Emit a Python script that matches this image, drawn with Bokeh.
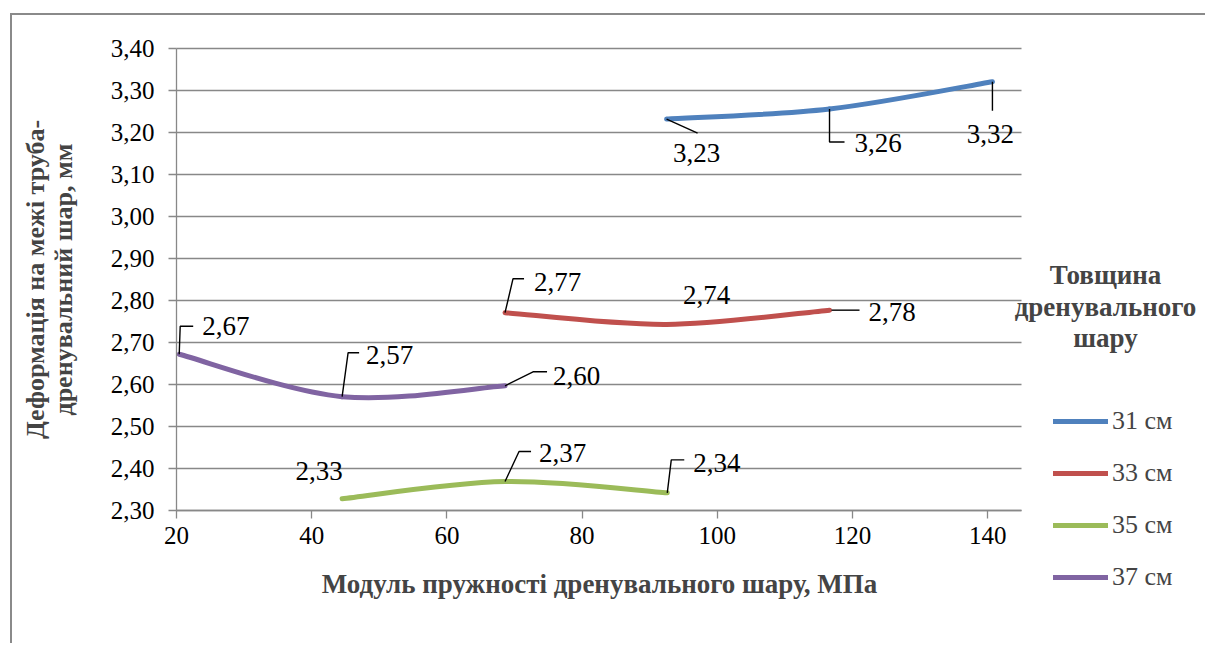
from bokeh.plotting import figure
from bokeh.models import (Range1d, FixedTicker, CustomJSTickFormatter, Label,
                          Legend, LegendItem)
from bokeh.core.properties import value
from bokeh.embed import file_html
from bokeh.resources import INLINE

# ---- data: drainage-layer elastic modulus (MPa) vs deformation at pipe boundary (mm)
series_names = ["31 см", "33 см", "35 см", "37 см"]

modulus_31 = [92.5, 116.6, 140.7]
deform_31 = [3.232, 3.256, 3.321]

modulus_33 = [68.6, 92.5, 116.6]
deform_33 = [2.771, 2.743, 2.777]

modulus_35 = [44.5, 68.6, 92.6]
deform_35 = [2.328, 2.369, 2.342]

modulus_37 = [20.4, 44.5, 68.6]
deform_37 = [2.672, 2.571, 2.597]

x_ticks = [20, 40, 60, 80, 100, 120, 140]
y_ticks = [2.30, 2.40, 2.50, 2.60, 2.70, 2.80, 2.90, 3.00, 3.10, 3.20, 3.30, 3.40]

# ---- layout (pixels) and axis limits
X_MIN, X_MAX = 20, 145
Y_MIN, Y_MAX = 2.30, 3.40
W, H = 1195, 630                 # canvas
PL, PT, PW, PH = 164, 33, 845, 462   # plotting area inside the canvas
KX = PW / (X_MAX - X_MIN)
KY = PH / (Y_MAX - Y_MIN)
OX, OY = 12, 15                  # canvas origin on the page (margin + border)

FONT = "Liberation Serif"
GRID = "#888888"
colors = ["#4F81BD", "#C0504D", "#9BBB59", "#8064A2"]

# label placement per point: (align, dx, dy, leader path in pixel offsets)
placements = [
    [("center", 30, 34, [(0, 0), (31, 14)]),
     ("left", 25, 34, [(0, 0), (0, 33), (15, 33)]),
     ("center", -2, 52, [(0, 0), (0, 29)])],
    [("left", 29, -31, [(0, 0), (8, -34), (19, -34)]),
     ("center", 40, -29, None),
     ("left", 39, 2, [(2, 0), (30, 0)])],
    [("center", -23, -28, None),
     ("left", 34, -29, [(0, 0), (14, -30), (26, -30)]),
     ("left", 26, -30, [(0, 0), (4, -33), (17, -33)])],
    [("left", 23, -28, [(0, 0), (1, -28), (14, -28)]),
     ("left", 24, -42, [(0, 0), (6, -44), (17, -44)]),
     ("left", 48, -10, [(0, 0), (28, -14), (42, -14)])],
]

all_x = [modulus_31, modulus_33, modulus_35, modulus_37]
all_y = [deform_31, deform_33, deform_35, deform_37]


def fmt(v):
    return f"{v:.2f}".replace(".", ",")


def sx(page_x):
    return page_x - OX


def sy(page_y):
    return (OY + H) - page_y


def smooth_segments(xs, ys):
    """Cubic Bezier pieces (Catmull-Rom style) through the points."""
    n = len(xs)
    out = dict(x0=[], y0=[], x1=[], y1=[], cx0=[], cy0=[], cx1=[], cy1=[])
    for i in range(n - 1):
        xp, yp = (xs[i - 1], ys[i - 1]) if i > 0 else (xs[i], ys[i])
        xn, yn = (xs[i + 2], ys[i + 2]) if i + 2 < n else (xs[i + 1], ys[i + 1])
        out["x0"].append(xs[i]); out["y0"].append(ys[i])
        out["x1"].append(xs[i + 1]); out["y1"].append(ys[i + 1])
        out["cx0"].append(xs[i] + (xs[i + 1] - xp) / 6)
        out["cy0"].append(ys[i] + (ys[i + 1] - yp) / 6)
        out["cx1"].append(xs[i + 1] - (xn - xs[i]) / 6)
        out["cy1"].append(ys[i + 1] - (yn - ys[i]) / 6)
    return out


# the frame covers the whole canvas; axes sit at fixed positions inside it
x_lo = X_MIN - PL / KX
x_hi = X_MAX + (W - PL - PW) / KX
y_lo = Y_MIN - (H - PT - PH) / KY
y_hi = Y_MAX + PT / KY

p = figure(width=W, height=H, output_backend="svg", toolbar_location=None,
           x_range=Range1d(x_lo, x_hi), y_range=Range1d(y_lo, y_hi),
           min_border=0)
p.margin = (13, 0, 0, 10)
p.styles = {"border-left": "2px solid #8a8a8a", "border-top": "2px solid #8a8a8a"}
p.outline_line_color = None
p.background_fill_color = "white"
p.border_fill_color = "white"
p.grid.visible = False

p.xaxis.fixed_location = Y_MIN
p.xaxis.bounds = (X_MIN, X_MAX)
p.yaxis.fixed_location = X_MIN
p.yaxis.bounds = (Y_MIN, Y_MAX)

for ax in (p.xaxis[0], p.yaxis[0]):
    ax.axis_line_color = GRID
    ax.axis_line_width = 1.3
    ax.major_tick_line_color = GRID
    ax.major_tick_line_width = 1.3
    ax.major_tick_in = 0
    ax.major_tick_out = 8
    ax.minor_tick_line_color = None
    ax.major_label_text_font = FONT
    ax.major_label_text_font_size = "25px"
    ax.major_label_text_color = "black"

p.xaxis.ticker = FixedTicker(ticks=x_ticks)
p.yaxis.ticker = FixedTicker(ticks=y_ticks)
p.xaxis.formatter = CustomJSTickFormatter(code="return tick.toFixed(0);")
p.yaxis.formatter = CustomJSTickFormatter(code="return tick.toFixed(2).replace('.', ',');")
p.xaxis.major_label_standoff = 8
p.yaxis.major_label_standoff = 14

# horizontal grid lines across the plotting area
p.segment(x0=[X_MIN] * len(y_ticks), x1=[X_MAX] * len(y_ticks), y0=y_ticks, y1=y_ticks,
          line_color=GRID, line_width=1.3, level="underlay")

# curves, leader lines and data labels
legend_items = []
for k in range(4):
    xs, ys, col = all_x[k], all_y[k], colors[k]
    seg = smooth_segments(xs, ys)
    curve = p.bezier(x0="x0", y0="y0", x1="x1", y1="y1", cx0="cx0", cy0="cy0",
                     cx1="cx1", cy1="cy1", source=seg, line_color=col, line_width=5,
                     line_cap="round")
    legend_items.append(LegendItem(label=series_names[k], renderers=[curve]))

    lead_xs, lead_ys = [], []
    groups = {"left": dict(x=[], y=[], t=[], dx=[], dy=[]),
              "center": dict(x=[], y=[], t=[], dx=[], dy=[])}
    for (align, dx, dy, leader), xv, yv in zip(placements[k], xs, ys):
        g = groups[align]
        g["x"].append(xv); g["y"].append(yv); g["t"].append(fmt(yv))
        g["dx"].append(dx); g["dy"].append(dy)
        if leader:
            lead_xs.append([xv + ox / KX for ox, oy in leader])
            lead_ys.append([yv - oy / KY for ox, oy in leader])
    if lead_xs:
        p.multi_line(xs=lead_xs, ys=lead_ys, line_color="black", line_width=1.4)
    for align, g in groups.items():
        if g["x"]:
            p.text(x="x", y="y", text="t", x_offset="dx", y_offset="dy", source=g,
                   text_align=align, text_baseline="middle",
                   text_font=value(FONT), text_font_size=value("27px"),
                   text_color="black")

legend = Legend(items=legend_items, location=(sx(1053), sy(592.7)))
legend.margin = 0
legend.padding = 0
legend.spacing = 20
legend.glyph_width = 55
legend.glyph_height = 32
legend.label_height = 32
legend.label_standoff = 4
legend.label_text_font = FONT
legend.label_text_font_size = "26px"
legend.border_line_color = None
legend.background_fill_alpha = 0
p.add_layout(legend, "center")

# legend heading
for txt, yy in zip(["Товщина", "дренувального", "шару"], [274, 306, 337]):
    p.add_layout(Label(x=sx(1105), y=sy(yy), x_units="screen", y_units="screen",
                       text=txt, text_align="center", text_baseline="middle",
                       text_font=FONT, text_font_size="27px",
                       text_font_style="bold"))

# axis titles
p.add_layout(Label(x=sx(599), y=sy(583), x_units="screen", y_units="screen",
                   text="Модуль пружності дренувального шару, МПа",
                   text_align="center", text_baseline="middle", text_font=FONT,
                   text_font_size="27px", text_font_style="bold"))
for txt, xx in zip(["Деформація на межі труба-", "дренувальний шар, мм"], [35, 63]):
    p.add_layout(Label(x=sx(xx), y=sy(279), x_units="screen", y_units="screen",
                       text=txt, angle=1.5707963, text_align="center",
                       text_baseline="middle", text_font=FONT,
                       text_font_size="26px", text_font_style="bold"))

open("out.html", "w").write(file_html(p, INLINE))
